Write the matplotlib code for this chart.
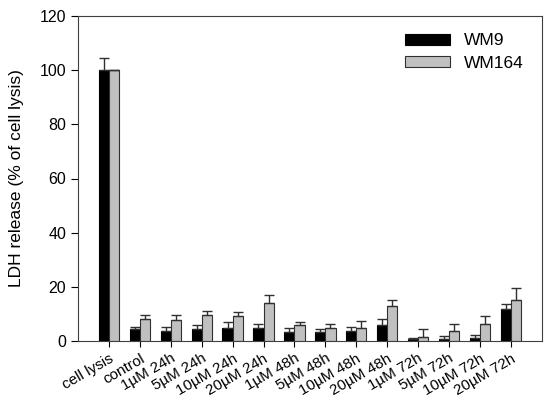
import numpy as np
import matplotlib.pyplot as plt

plt.rcParams['font.family'] = ['Liberation Sans', 'DejaVu Sans']

# -------- data --------
groups = ["cell lysis", "control", "1µM 24h", "5µM 24h", "10µM 24h", "20µM 24h",
          "1µM 48h", "5µM 48h", "10µM 48h", "20µM 48h",
          "1µM 72h", "5µM 72h", "10µM 72h", "20µM 72h"]
wm9 = [100, 4.6, 3.6, 4.6, 4.8, 4.8, 3.2, 3.2, 3.7, 5.9, 0.7, 0.6, 1.1, 11.7]
wm9_err = [4.5, 0.6, 1.6, 1.2, 2.1, 1.5, 1.6, 1.2, 1.3, 2.3, 0.3, 1.3, 1.0, 2.1]
wm164 = [100, 8.2, 7.7, 9.6, 9.1, 14.1, 5.8, 4.8, 4.8, 13.1, 1.6, 3.7, 6.3, 15.0]
wm164_err = [0, 1.5, 2.0, 1.4, 1.5, 3.0, 1.4, 1.5, 2.6, 2.1, 2.7, 2.4, 2.8, 4.5]

x = np.arange(len(groups))
w = 0.33

fig = plt.figure(figsize=(5.5, 4), dpi=100)
ax = fig.add_axes([0.142, 0.1475, 0.843, 0.8125])

ax.bar(x - w / 2, wm9, w, color="black", edgecolor="black", linewidth=0.8,
       yerr=[np.zeros(len(wm9)), wm9_err], capsize=3.5,
       error_kw=dict(ecolor="#303030", elinewidth=1.0, capthick=1.0), label="WM9")
ax.bar(x + w / 2, wm164, w, color="#c0c0c0", edgecolor="#303030", linewidth=0.8,
       yerr=[np.zeros(len(wm164)), wm164_err], capsize=3.5,
       error_kw=dict(ecolor="#303030", elinewidth=1.0, capthick=1.0), label="WM164")

ax.set_xlim(-1, 14)
ax.set_ylim(0, 120)
ax.set_yticks(range(0, 121, 20))
ax.set_xticks(x)
ax.set_xticklabels(groups, rotation=30, ha="right", rotation_mode="anchor", fontsize=11)
ax.tick_params(axis="y", labelsize=11.5, direction="out", length=5)
ax.tick_params(axis="x", direction="out", length=4)
for s in ax.spines.values():
    s.set_color("#404040")

ax.set_ylabel("LDH release (% of cell lysis)", fontsize=12.5, labelpad=11)

ax.legend(loc="upper right", bbox_to_anchor=(0.995, 0.995), frameon=False, fontsize=12.5,
          handlelength=2.6, handleheight=0.6, labelspacing=0.45, handletextpad=0.8)

plt.savefig("out.png", dpi=100)
